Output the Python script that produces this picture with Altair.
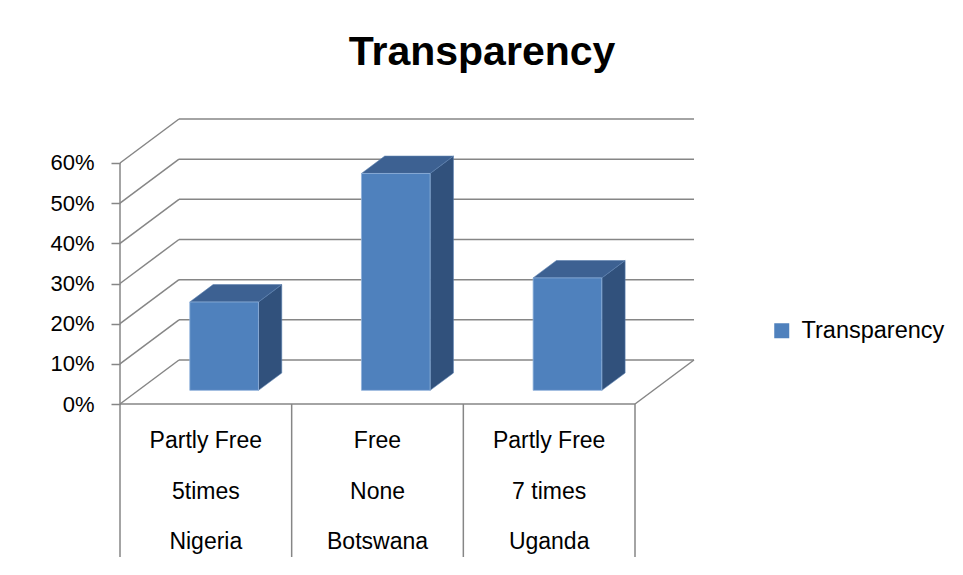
import altair as alt
import pandas as pd

# ---------------- data ----------------
countries = ["Nigeria", "Botswana", "Uganda"]
freedom = ["Partly Free", "Free", "Partly Free"]
times = ["5times", "None", "7 times"]
values = [0.22, 0.54, 0.28]
series_name = "Transparency"
tick_values = [0.0, 0.1, 0.2, 0.3, 0.4, 0.5, 0.6]

# ---------------- layout / 3-D projection constants ----------------
PX_X = 171.67          # pixels per category
PX_Y = 401.7           # pixels per 100 %
DX = 59 / PX_X         # depth shift along x (category units)
DY = 44 / PX_Y         # depth shift along y (value units)
N = len(countries)
Y_MAX = tick_values[-1] + DY
Y_MIN = -153 / PX_Y    # bottom of the category table
X_MAX = N + DX
W = round(X_MAX * PX_X)
H = round((Y_MAX - Y_MIN) * PX_Y)
D0, D1 = 0.31, 0.705   # bar front / back depth
HALF = 0.2             # half bar width (categories)
SPAN = D1 - D0

FONT = "Liberation Sans"
GRID = "#868686"
FRONT = "#4F81BD"
TOP = "#3D6192"
SIDE = "#31517C"

XS = alt.Scale(domain=[0, X_MAX], nice=False, zero=False)
YS = alt.Scale(domain=[Y_MIN, Y_MAX], nice=False, zero=False)
YAX = alt.Axis(values=tick_values, format=".0%", domain=False, grid=False,
               ticks=True, tickSize=9, tickColor=GRID, tickWidth=1.5,
               labelPadding=17, labelFont=FONT, labelFontSize=22,
               labelColor="#000000", title=None)


def X(f):
    return alt.X(f, type="quantitative", scale=XS, axis=None)


def Y(f):
    return alt.Y(f, type="quantitative", scale=YS, axis=YAX)


# ---------------- frame lines (walls, floor, table) ----------------
segs = []
for v in tick_values:
    segs.append(dict(x=DX, y=v + DY, x2=N + DX, y2=v + DY))      # back wall
    segs.append(dict(x=0, y=v, x2=DX, y2=v + DY))                # left wall
segs.append(dict(x=0, y=0, x2=N, y2=0))                          # floor front
segs.append(dict(x=N, y=0, x2=N + DX, y2=DY))                    # floor right
segs.append(dict(x=0, y=Y_MIN, x2=0, y2=tick_values[-1]))        # value axis
for k in range(1, N + 1):
    segs.append(dict(x=k, y=Y_MIN, x2=k, y2=0))                  # table columns
segs = pd.DataFrame(segs)

lines = alt.Chart(segs).mark_rule(color=GRID, strokeWidth=1.5).encode(
    x=X("x"), y=Y("y"), x2="x2", y2="y2")

# ---------------- bars ----------------
bars = pd.DataFrame({"country": countries, "value": values,
                     "series": [series_name] * N, "i": list(range(N))})
bars["xl"] = bars["i"] + 0.5 - HALF + D0 * DX
bars["xr"] = bars["i"] + 0.5 + HALF + D0 * DX
bars["yb"] = D0 * DY
bars["yt"] = bars["value"] + D0 * DY

side_rows, top_rows = [], []
for _, r in bars.iterrows():
    side_rows.append(dict(country=r.country, x=r.xr, lo=r.yb, hi=r.yt))
    side_rows.append(dict(country=r.country, x=r.xr + SPAN * DX,
                          lo=r.yb + SPAN * DY, hi=r.yt + SPAN * DY))
    top_rows.append(dict(country=r.country, y=r.yt, a=r.xl, b=r.xr))
    top_rows.append(dict(country=r.country, y=r.yt + SPAN * DY,
                         a=r.xl + SPAN * DX, b=r.xr + SPAN * DX))
side = pd.DataFrame(side_rows)
top = pd.DataFrame(top_rows)

side_layer = alt.Chart(side).mark_area(orient="vertical", color=SIDE,
                                       stroke="#5B7FAE", strokeWidth=0.6).encode(
    x=X("x"), y=Y("lo"), y2="hi", detail="country:N")

top_layer = alt.Chart(top).mark_area(orient="horizontal", color=TOP,
                                     stroke="#5B7FAE", strokeWidth=0.6).encode(
    y=Y("y"), x=X("a"), x2="b", detail="country:N")

front_layer = alt.Chart(bars).mark_rect(stroke="#8FB1DB", strokeWidth=0.8).encode(
    x=X("xl"), x2="xr", y=Y("yb"), y2="yt",
    color=alt.Color("series:N",
                    scale=alt.Scale(domain=[series_name], range=[FRONT]),
                    legend=alt.Legend(title=None, orient="none", legendX=650,
                                      legendY=200, symbolType="square",
                                      symbolSize=225, symbolStrokeWidth=0,
                                      labelFont=FONT, labelFontSize=23.5,
                                      labelColor="#000000", labelOffset=8,
                                      padding=0)))

# ---------------- category table labels ----------------
labels = pd.DataFrame({"xc": [i + 0.5 for i in range(N)], "freedom": freedom,
                       "times": times, "country": countries})
row_y = [328.7, 380.3, 430.3]
text_layers = []
for field, yy in zip(["freedom", "times", "country"], row_y):
    text_layers.append(
        alt.Chart(labels).mark_text(font=FONT, fontSize=23, align="center",
                                    baseline="alphabetic", color="#000000").encode(
            x=X("xc"), y=alt.value(yy), text=f"{field}:N"))

chart = alt.layer(lines, side_layer, top_layer, front_layer, *text_layers).properties(
    width=W, height=H,
    title=alt.TitleParams(text="Transparency", font=FONT, fontSize=41,
                          fontWeight="bold", color="#000000", anchor="middle",
                          dx=75, offset=44),
    padding={"left": 112, "top": 111, "right": 947 - 112 - W, "bottom": 559 - 111 - H},
    autosize=alt.AutoSizeParams(type="none"),
).configure(background="white").configure_view(stroke=None)

chart.save("out.html", embed_options={"renderer": "svg", "actions": False})
